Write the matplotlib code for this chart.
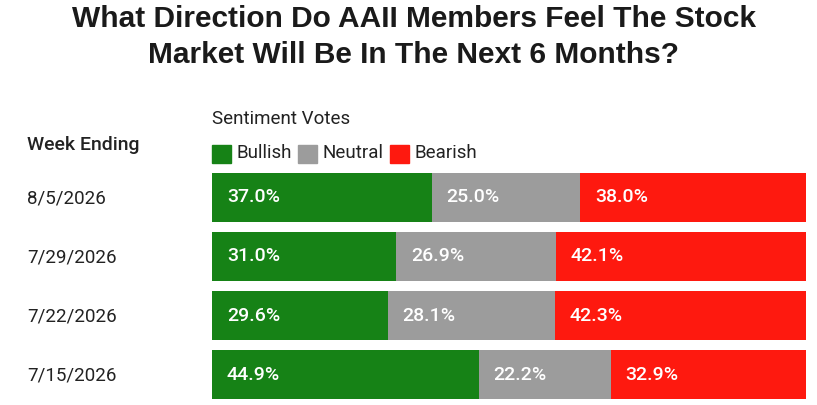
import matplotlib
matplotlib.use('Agg')
import matplotlib.pyplot as plt
import numpy as np
from matplotlib.patches import Rectangle

weeks = ["8/5/2026", "7/29/2026", "7/22/2026", "7/15/2026"]
bullish = [37.0, 31.0, 29.6, 44.9]
neutral = [25.0, 26.9, 28.1, 22.2]
bearish = [38.0, 42.1, 42.3, 32.9]
series_names = ["Bullish", "Neutral", "Bearish"]
colors = ["#168216", "#9c9c9c", "#fe190f"]

W, H = 817, 405
fig = plt.figure(figsize=(W / 100, H / 100), dpi=100)
fig.patch.set_facecolor("white")

# bar area in pixels: x 212..806, y 173..399
bar_h = 0.826
ax = fig.add_axes([212 / W, 1 - 399 / H, (806 - 212) / W, (399 - 173) / H])
ax.set_xlim(0, 100)
ax.set_ylim(3 + bar_h / 2, -bar_h / 2)
ax.axis("off")

y = np.arange(len(weeks))
left = np.zeros(len(weeks))
for vals, name, col in zip([bullish, neutral, bearish], series_names, colors):
    vals = np.array(vals)
    ax.barh(y, vals, left=left, height=bar_h, color=col, edgecolor="none")
    for yi, l, v in zip(y, left, vals):
        ax.text(l + 2.5, yi, f"{v:.1f}%", color="white", fontsize=14,
                family="Roboto", fontweight="medium", va="center", ha="left")
    left = left + vals

# title
tx = 414 / W
fig.text(tx, 1 - 19 / H, "What Direction Do AAII Members Feel The Stock",
         ha="center", va="center", fontsize=21.5, fontweight="bold",
         family="Liberation Sans", color="#1a1a1a")
fig.text(tx, 1 - 55 / H, "Market Will Be In The Next 6 Months?",
         ha="center", va="center", fontsize=21.5, fontweight="bold",
         family="Liberation Sans", color="#1a1a1a")

# row labels
fig.text(27 / W, 1 - 145 / H, "Week Ending", ha="left", va="center",
         fontsize=14, family="Roboto", fontweight="medium", color="#222222")
for i, w in enumerate(weeks):
    yp = 198 + i * 59.3
    fig.text(27 / W, 1 - yp / H, w, ha="left", va="center",
             fontsize=13.5, family="Roboto", color="#222222")

# legend
fig.text(212 / W, 1 - 119 / H, "Sentiment Votes", ha="left", va="center",
         fontsize=13.5, family="Roboto", color="#222222")
xpos = [212, 298, 390]
for xp, name, col in zip(xpos, series_names, colors):
    fig.patches.append(Rectangle((xp / W, 1 - 163 / H), 19 / W, 18 / H,
                                 transform=fig.transFigure, color=col))
    fig.text((xp + 25) / W, 1 - 153 / H, name, ha="left", va="center",
             fontsize=13.5, family="Roboto", color="#222222")

fig.savefig("out.png", dpi=100)
